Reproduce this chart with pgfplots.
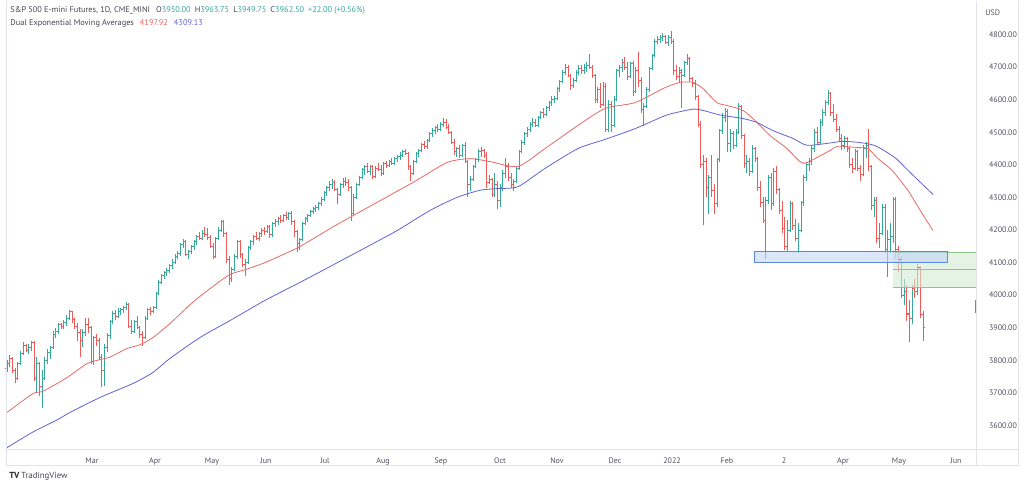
\documentclass[border=0pt]{standalone}
\usepackage{pgfplots}
\pgfplotsset{compat=1.18}
\usepackage{pgfplotstable}
\usepackage{fontspec}
\setmainfont{PT Sans}
\definecolor{upc}{HTML}{34A899}
\definecolor{dnc}{HTML}{EC5B57}
\definecolor{emar}{HTML}{E86A66}
\definecolor{emab}{HTML}{6264D4}
\definecolor{framec}{HTML}{E0E3EB}
\definecolor{txt}{HTML}{434651}
\definecolor{labc}{HTML}{50535E}
\definecolor{bluef}{HTML}{C2D6F8}
\definecolor{blued}{HTML}{5B88DA}
\definecolor{greenf}{HTML}{D3ECD3}
\definecolor{greend}{HTML}{8BC78B}
\newcommand\hdr{\fontsize{4.15}{5}\selectfont}
\newcommand\axf{\fontsize{4.0}{5}\selectfont}

\pgfplotstableread{
i o h l c
0 3775 3800 3765 3790
1 3790 3815 3780 3805
2 3805 3810 3760 3770
3 3770 3775 3730 3745
4 3745 3795 3740 3790
5 3790 3830 3785 3820
6 3820 3855 3815 3845
7 3845 3850 3825 3830
8 3830 3850 3820 3840
9 3840 3860 3830 3855
10 3855 3860 3735 3745
11 3745 3810 3700 3790
12 3790 3795 3690 3720
13 3720 3770 3655 3745
14 3745 3810 3740 3800
15 3800 3835 3790 3825
16 3825 3845 3805 3840
17 3840 3890 3835 3880
18 3880 3900 3870 3890
19 3890 3915 3880 3910
20 3910 3915 3895 3905
21 3905 3925 3895 3915
22 3915 3940 3905 3930
23 3930 3955 3925 3950
24 3950 3952 3915 3925
25 3925 3930 3895 3905
26 3905 3915 3860 3885
27 3885 3895 3810 3860
28 3860 3895 3840 3885
29 3885 3930 3875 3910
30 3910 3930 3885 3900
31 3900 3905 3790 3795
32 3795 3875 3785 3870
33 3870 3880 3845 3860
34 3860 3870 3800 3810
35 3810 3820 3717 3770
36 3770 3850 3720 3840
37 3840 3885 3825 3875
38 3875 3925 3865 3920
39 3920 3950 3910 3945
40 3945 3955 3925 3935
41 3935 3960 3930 3950
42 3950 3962 3940 3955
43 3955 3968 3945 3962
44 3962 3980 3955 3970
45 3970 3975 3900 3905
46 3905 3925 3880 3890
47 3890 3925 3885 3920
48 3920 3935 3895 3900
49 3900 3905 3870 3880
50 3880 3890 3845 3870
51 3870 3935 3865 3930
52 3930 3960 3925 3955
53 3955 3965 3940 3950
54 3950 3968 3945 3962
55 3962 4010 3958 4005
56 4005 4045 4000 4040
57 4040 4065 4035 4060
58 4060 4075 4050 4070
59 4070 4082 4060 4075
60 4075 4095 4068 4090
61 4090 4110 4080 4100
62 4100 4125 4095 4120
63 4120 4135 4110 4128
64 4128 4160 4120 4155
65 4155 4172 4145 4165
66 4165 4170 4120 4125
67 4125 4140 4110 4135
68 4135 4155 4125 4150
69 4150 4170 4140 4165
70 4165 4185 4155 4180
71 4180 4195 4170 4175
72 4175 4200 4170 4190
73 4190 4208 4180 4185
74 4185 4205 4170 4178
75 4178 4185 4145 4150
76 4150 4160 4110 4120
77 4120 4180 4115 4175
78 4175 4210 4170 4200
79 4200 4230 4195 4225
80 4225 4230 4180 4190
81 4190 4195 4100 4110
82 4110 4120 4030 4050
83 4050 4085 4040 4080
84 4080 4125 4075 4120
85 4120 4170 4110 4165
86 4165 4170 4115 4125
87 4125 4130 4085 4095
88 4095 4110 4060 4100
89 4100 4150 4095 4145
90 4145 4170 4140 4165
91 4165 4185 4155 4180
92 4180 4195 4170 4175
93 4175 4195 4165 4190
94 4190 4205 4180 4200
95 4200 4210 4185 4195
96 4195 4215 4190 4210
97 4210 4215 4175 4185
98 4185 4225 4180 4220
99 4220 4235 4210 4225
100 4225 4240 4215 4235
101 4235 4245 4220 4230
102 4230 4248 4225 4245
103 4245 4255 4230 4240
104 4240 4255 4230 4250
105 4250 4258 4215 4225
106 4225 4230 4180 4195
107 4195 4200 4131 4160
108 4160 4175 4140 4170
109 4170 4225 4165 4220
110 4220 4240 4215 4235
111 4235 4250 4225 4245
112 4245 4262 4240 4258
113 4258 4270 4250 4265
114 4265 4278 4255 4270
115 4270 4285 4262 4280
116 4280 4300 4275 4295
117 4295 4320 4290 4315
118 4315 4335 4305 4330
119 4330 4350 4320 4340
120 4340 4355 4325 4345
121 4345 4352 4320 4325
122 4325 4330 4281 4310
123 4310 4345 4305 4340
124 4340 4360 4330 4350
125 4350 4362 4335 4345
126 4345 4355 4320 4330
127 4330 4335 4229 4250
128 4250 4310 4245 4300
129 4300 4345 4295 4340
130 4340 4365 4335 4360
131 4360 4390 4355 4385
132 4385 4400 4370 4395
133 4395 4405 4375 4380
134 4380 4400 4370 4395
135 4395 4400 4355 4365
136 4365 4395 4360 4390
137 4390 4405 4380 4385
138 4385 4400 4365 4372
139 4372 4410 4368 4405
140 4405 4412 4390 4398
141 4398 4415 4392 4410
142 4410 4420 4400 4405
143 4405 4425 4400 4420
144 4420 4430 4410 4425
145 4425 4438 4415 4430
146 4430 4445 4425 4440
147 4440 4450 4430 4435
148 4435 4440 4385 4395
149 4395 4400 4350 4375
150 4375 4415 4370 4410
151 4410 4440 4405 4435
152 4435 4450 4425 4445
153 4445 4468 4440 4462
154 4462 4472 4450 4455
155 4455 4480 4450 4475
156 4475 4500 4470 4495
157 4495 4512 4485 4505
158 4505 4520 4495 4515
159 4515 4525 4500 4510
160 4510 4530 4505 4525
161 4525 4545 4515 4530
162 4530 4540 4510 4515
163 4515 4525 4495 4500
164 4500 4505 4465 4470
165 4470 4480 4430 4440
166 4440 4455 4425 4450
167 4450 4460 4420 4430
168 4430 4465 4425 4460
169 4460 4470 4405 4410
170 4410 4415 4300 4340
171 4340 4365 4320 4355
172 4355 4400 4350 4395
173 4395 4420 4390 4415
174 4415 4450 4410 4440
175 4440 4455 4425 4445
176 4445 4450 4420 4430
177 4430 4440 4330 4345
178 4345 4370 4340 4355
179 4355 4360 4300 4310
180 4310 4375 4300 4340
181 4340 4350 4265 4290
182 4290 4340 4270 4330
183 4330 4385 4320 4375
184 4375 4420 4360 4395
185 4395 4405 4350 4360
186 4360 4375 4330 4340
187 4340 4355 4320 4350
188 4350 4395 4345 4390
189 4390 4445 4385 4440
190 4440 4475 4435 4470
191 4470 4500 4460 4495
192 4495 4515 4485 4510
193 4510 4530 4500 4525
194 4525 4545 4515 4530
195 4530 4540 4515 4520
196 4520 4550 4515 4545
197 4545 4565 4540 4560
198 4560 4575 4545 4555
199 4555 4580 4550 4575
200 4575 4595 4565 4590
201 4590 4610 4580 4600
202 4600 4612 4590 4605
203 4605 4640 4600 4635
204 4635 4660 4625 4655
205 4655 4690 4650 4685
206 4685 4710 4675 4700
207 4700 4705 4670 4675
208 4675 4680 4630 4645
209 4645 4665 4635 4660
210 4660 4690 4655 4685
211 4685 4705 4675 4695
212 4695 4705 4680 4690
213 4690 4710 4680 4700
214 4700 4715 4685 4705
215 4705 4740 4695 4700
216 4700 4705 4665 4675
217 4675 4680 4590 4600
218 4600 4640 4590 4630
219 4630 4650 4575 4585
220 4585 4655 4580 4640
221 4640 4650 4500 4510
222 4510 4600 4500 4585
223 4585 4595 4500 4520
224 4520 4610 4515 4600
225 4600 4695 4595 4690
226 4690 4705 4670 4700
227 4700 4725 4685 4715
228 4715 4730 4690 4700
229 4700 4715 4660 4670
230 4670 4715 4665 4710
231 4710 4720 4610 4625
232 4625 4700 4620 4690
233 4690 4745 4640 4660
234 4660 4670 4560 4570
235 4570 4590 4520 4580
236 4580 4640 4575 4630
237 4630 4700 4625 4695
238 4695 4740 4690 4735
239 4735 4785 4730 4780
240 4780 4795 4770 4785
241 4785 4800 4775 4790
242 4790 4805 4780 4795
243 4795 4800 4770 4775
244 4775 4798 4765 4790
245 4790 4810 4770 4780
246 4780 4785 4675 4690
247 4690 4705 4660 4670
248 4670 4700 4655 4690
249 4685 4695 4573 4675
250 4675 4720 4670 4715
251 4715 4740 4705 4725
252 4725 4730 4655 4665
253 4665 4670 4640 4650
254 4650 4660 4600 4610
255 4610 4615 4515 4525
256 4525 4535 4390 4400
257 4400 4430 4214 4410
258 4410 4420 4300 4330
259 4330 4370 4250 4360
260 4360 4430 4300 4320
261 4320 4340 4250 4280
262 4280 4420 4270 4415
263 4415 4510 4410 4505
264 4505 4560 4495 4545
265 4545 4573 4530 4565
266 4565 4570 4440 4465
267 4465 4510 4440 4495
268 4495 4505 4450 4460
269 4460 4510 4455 4500
270 4500 4590 4495 4580
271 4580 4585 4480 4490
272 4490 4495 4390 4405
273 4405 4430 4375 4410
274 4410 4420 4365 4380
275 4380 4460 4375 4450
276 4450 4455 4410 4420
277 4420 4425 4320 4330
278 4330 4350 4270 4285
279 4285 4300 4220 4230
280 4230 4300 4112 4290
281 4290 4370 4280 4360
282 4360 4375 4260 4280
283 4280 4390 4275 4380
284 4380 4395 4310 4325
285 4325 4330 4250 4260
286 4260 4290 4190 4205
287 4205 4240 4140 4150
288 4150 4230 4137 4200
289 4200 4290 4195 4280
290 4280 4285 4200 4215
291 4215 4235 4165 4175
292 4175 4220 4130 4200
293 4200 4290 4195 4285
294 4285 4370 4275 4360
295 4360 4410 4350 4400
296 4400 4420 4380 4410
297 4410 4460 4400 4450
298 4450 4510 4440 4500
299 4500 4515 4460 4470
300 4470 4540 4465 4530
301 4530 4570 4520 4560
302 4560 4600 4550 4590
303 4590 4630 4585 4620
304 4620 4625 4550 4560
305 4560 4588 4530 4540
306 4540 4555 4500 4510
307 4510 4520 4470 4480
308 4480 4495 4445 4460
309 4460 4490 4450 4480
310 4480 4485 4440 4450
311 4450 4455 4390 4400
312 4400 4420 4375 4390
313 4390 4450 4385 4440
314 4440 4445 4380 4390
315 4390 4400 4350 4370
316 4370 4460 4365 4450
317 4450 4470 4420 4460
318 4460 4510 4380 4395
319 4395 4400 4260 4275
320 4275 4300 4240 4290
321 4290 4300 4160 4175
322 4175 4220 4146 4190
323 4190 4280 4185 4270
324 4270 4280 4130 4140
325 4140 4200 4055 4170
326 4170 4220 4130 4180
327 4180 4300 4160 4295
328 4295 4300 4110 4140
329 4140 4150 4070 4110
330 4110 4120 3990 4000
331 4000 4050 3970 4010
332 4010 4030 3922 3940
333 3945 3985 3855 3930
334 3930 4030 3910 4020
335 4020 4050 3990 4010
336 4010 4097 4000 4085
337 4085 4090 3930 3940
338 3940 3950 3860 3900
}\bars

\begin{document}
\begin{tikzpicture}[x=0.5pt,y=-0.5pt]
\fill[white] (0,0) rectangle (1024,489);
\begin{axis}[
  at={(3pt,-224.5pt)}, anchor=south west, scale only axis,
  width=485pt, height=222pt,
  xmin=6, xmax=976, ymin=3526.2, ymax=4889,
  axis line style={draw=none}, major tick length=0pt,
  xtick={92,155,212,266,325,383,441,500,557,615,672,727,784,843,899,956},
  xticklabels={Mar,Apr,May,Jun,Jul,Aug,Sep,Oct,Nov,Dec,2022,Feb,2,Apr,May,Jun},
  ytick={3600,3700,...,4800},
  yticklabel pos=right,
  ticklabel style={font=\axf, text=labc},
  xticklabel style={yshift=-0.6pt},
  yticklabel style={anchor=west, xshift=3pt},
  y tick label style={/pgf/number format/.cd, fixed, fixed zerofill, precision=2, 1000 sep={}, assume math mode=true},
]
% up bars
\addplot[draw=none, mark=none, restrict expr to domain={\thisrow{c}-\thisrow{o}}{0:100000},
  error bars/.cd, y dir=plus, y explicit, error mark=none, error bar style={draw=upc, line width=0.45pt}]
  table[x expr=7+2.71*\thisrow{i}, y=l, y error expr=\thisrow{h}-\thisrow{l}] {\bars};
\addplot[only marks, mark=-, mark size=0.6pt, mark options={draw=upc, line width=0.45pt, xshift=-0.6pt}, restrict expr to domain={\thisrow{c}-\thisrow{o}}{0:100000}]
  table[x expr=7+2.71*\thisrow{i}, y=o] {\bars};
\addplot[only marks, mark=-, mark size=0.6pt, mark options={draw=upc, line width=0.45pt, xshift=0.6pt}, restrict expr to domain={\thisrow{c}-\thisrow{o}}{0:100000}]
  table[x expr=7+2.71*\thisrow{i}, y=c] {\bars};
% down bars
\addplot[draw=none, mark=none, restrict expr to domain={\thisrow{c}-\thisrow{o}}{-100000:-0.001},
  error bars/.cd, y dir=plus, y explicit, error mark=none, error bar style={draw=dnc, line width=0.45pt}]
  table[x expr=7+2.71*\thisrow{i}, y=l, y error expr=\thisrow{h}-\thisrow{l}] {\bars};
\addplot[only marks, mark=-, mark size=0.6pt, mark options={draw=dnc, line width=0.45pt, xshift=-0.6pt}, restrict expr to domain={\thisrow{c}-\thisrow{o}}{-100000:-0.001}]
  table[x expr=7+2.71*\thisrow{i}, y=o] {\bars};
\addplot[only marks, mark=-, mark size=0.6pt, mark options={draw=dnc, line width=0.45pt, xshift=0.6pt}, restrict expr to domain={\thisrow{c}-\thisrow{o}}{-100000:-0.001}]
  table[x expr=7+2.71*\thisrow{i}, y=c] {\bars};
% EMAs
\addplot[emar, line width=0.4pt, smooth, tension=0.4] coordinates {
(7,3640) (33,3698) (43,3705) (67,3747) (87,3790) (100,3802) (110,3810) (127,3836) (140,3848) (153,3870) (170,3913) (195,3984) (228,4060) (245,4078) (265,4100) (298,4146) (332,4208) (353,4244) (413,4346) (447,4407) (470,4419) (490,4410) (518,4395) (545,4450) (578,4521) (605,4573) (635,4591) (665,4637) (680,4653) (693,4653) (703,4634) (717,4591) (727,4582) (743,4567) (757,4530) (770,4490) (787,4450) (800,4410) (807,4407) (830,4444) (838,4457) (858,4453) (868,4450) (878,4419) (892,4383) (908,4321) (922,4251) (933,4198)};
\addplot[emab, line width=0.4pt, smooth, tension=0.4] coordinates {
(7,3532) (33,3580) (57,3617) (70,3640) (100,3686) (133,3729) (153,3763) (170,3806) (200,3870) (230,3922) (265,3984) (298,4036) (332,4091) (365,4145) (397,4198) (430,4260) (457,4300) (480,4322) (497,4327) (518,4333) (545,4389) (578,4450) (605,4478) (635,4511) (665,4551) (677,4561) (693,4571) (703,4567) (720,4553) (743,4542) (757,4530) (773,4505) (793,4481) (807,4460) (830,4467) (842,4472) (858,4469) (875,4459) (895,4422) (908,4383) (933,4309)};
% zones
\addplot[draw=none, fill=greenf, fill opacity=0.6] coordinates {(893,4024) (976,4024) (976,4130) (893,4130)} -- cycle;
\addplot[greend, line width=0.5pt] coordinates {(893,4130) (976,4130)};
\addplot[greend, line width=0.5pt] coordinates {(893,4078) (976,4078)};
\addplot[greend, line width=0.5pt] coordinates {(893,4024) (976,4024)};
\addplot[draw=blued, line width=0.5pt, fill=bluef, fill opacity=0.6] coordinates {(754,4101) (947,4101) (947,4135) (754,4135)} -- cycle;
\addplot[upc, line width=0.8pt] coordinates {(975.6,3945) (975.6,3985)};
\end{axis}
% frame
\draw[framec, line width=0.5pt] (6,0) -- (6,465) -- (1018,465) -- (1018,0);
\draw[framec, line width=0.5pt] (976,0) -- (976,465);
\draw[framec, line width=0.5pt] (6,449) -- (1018,449);
% header
\node[anchor=west, inner sep=0pt, font=\hdr, text=txt] at (10,10) {S\&P 500 E-mini Futures, 1D, CME\_MINI\hspace{3pt}O{\color{upc}3950.00}\hspace{2pt}H{\color{upc}3963.75}\hspace{2pt}L{\color{upc}3949.75}\hspace{2pt}C{\color{upc}3962.50}\hspace{2pt}{\color{upc}+22.00 (+0.56\%)}};
\node[anchor=west, inner sep=0pt, font=\hdr, text=txt] at (10,23) {Dual Exponential Moving Averages\hspace{3pt}{\color{emar}4197.92}\hspace{3pt}{\color{emab}4309.13}};
\node[anchor=west, inner sep=0pt, font=\axf, text=labc] at (985,12) {USD};
% logo
\node[anchor=west, inner sep=0pt, font=\fontsize{4.4}{5}\selectfont, text=black!85] at (9,476) {\textbf{TV}\hspace{1pt}{\color{txt}TradingView}};
\end{tikzpicture}
\end{document}
